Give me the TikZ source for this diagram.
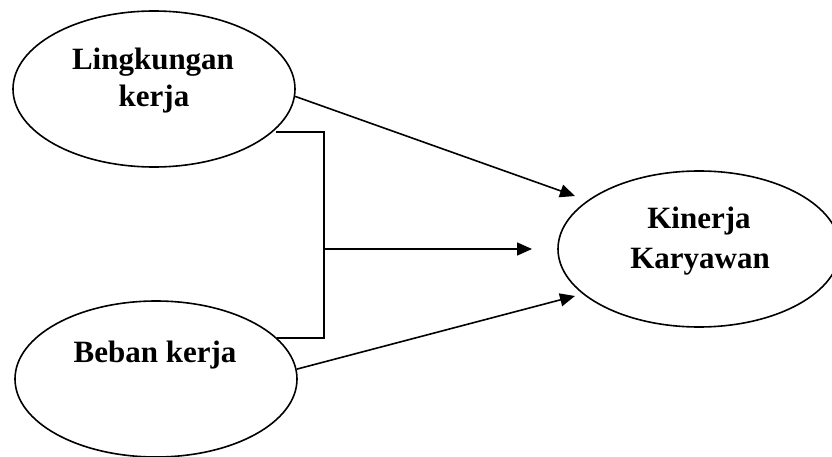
\documentclass[tikz,border=0pt]{standalone}
\usepackage{fontspec}
\setmainfont{Liberation Serif}
\usetikzlibrary{shapes.geometric,arrows.meta}
\begin{document}
\begin{tikzpicture}[x=1pt,y=-1pt,
  oval/.style={draw,ellipse,line width=1.6pt,minimum width=282pt,minimum height=156pt,inner sep=0pt},
  lbl/.style={anchor=base,inner sep=0pt,font=\bfseries\fontsize{31}{37}\selectfont},
  conn/.style={line width=1.6pt},
  arr/.style={conn,-{Triangle[length=15pt,width=13pt]}}]
\useasboundingbox (0,0) rectangle (832,457);
\clip (0,0) rectangle (832,457);
\node[oval] (e1) at (154,89) {};
\node[oval] (e2) at (156,379) {};
\node[oval] (e3) at (699,249) {};
\node[lbl] (l1) at (153,70) {Lingkungan};
\node[lbl] (l2) at (154,107) {kerja};
\node[lbl] (l3) at (155,362) {Beban kerja};
\node[lbl] (l4) at (699,229) {Kinerja};
\node[lbl] (l5) at (700,268) {Karyawan};
\coordinate (t1) at (575,196);
\coordinate (t2) at (532,249);
\coordinate (t3) at (575,296);
\coordinate (b1) at (276,132);
\coordinate (b2) at (324,132);
\coordinate (b3) at (324,338);
\coordinate (b4) at (277,338);
\coordinate (m) at (324,249);
\draw[arr] (e1.-3.5) -- (t1);
\draw[arr] (e2.4) -- (t3);
\draw[conn] (b1) -- (b2) -- (b3) -- (b4);
\draw[arr] (m) -- (t2);
\end{tikzpicture}
\end{document}
